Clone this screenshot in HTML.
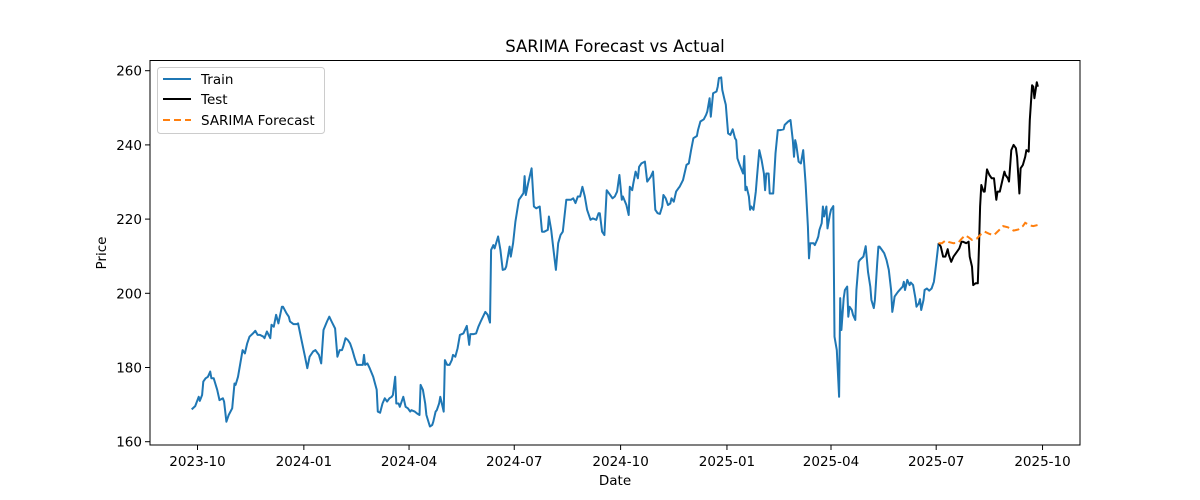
<!DOCTYPE html>
<html><head><meta charset="utf-8"><style>
html,body{margin:0;padding:0;background:#fff;}
svg{display:block;font-family:"DejaVu Sans","Liberation Sans",sans-serif;}
</style></head><body>
<svg id="chart" width="1200" height="500" viewBox="0 0 1200 500">
<rect width="1200" height="500" fill="#fff"/>
<text x="615" y="52" font-size="16.5" text-anchor="middle" fill="#000">SARIMA Forecast vs Actual</text>
<g id="axes"></g>
<g id="series"></g>
<rect x="150" y="60.5" width="930" height="384.5" fill="none" stroke="#000" stroke-width="1"/>
<text x="615" y="485" font-size="13.5" text-anchor="middle">Date</text>
<text x="106" y="253" font-size="13.5" text-anchor="middle" transform="rotate(-90 106 253)">Price</text>
<g>
<rect x="157.5" y="67.5" width="167" height="66" rx="3" fill="#fff" fill-opacity="0.8" stroke="#ccc"/>
<line x1="163" y1="79" x2="191" y2="79" stroke="#1f77b4" stroke-width="2"/>
<text x="201" y="84" font-size="13.5">Train</text>
<line x1="163" y1="99" x2="191" y2="99" stroke="#000" stroke-width="2"/>
<text x="201" y="104" font-size="13.5">Test</text>
<line x1="163" y1="120" x2="191" y2="120" stroke="#ff7f0e" stroke-width="2" stroke-dasharray="7,4"/>
<text x="201" y="125" font-size="13.5">SARIMA Forecast</text>
</g>
</svg>
<script>
// days since 2023-10-01
const trainDays=[-5,-2,1,2,4,5,7,9,11,12,14,17,19,22,23,25,27,30,32,33,35,37,39,41,43,45,48,50,52,54,57,58,60,63,64,66,68,70,73,74,77,79,80,83,86,87,90,93,95,97,100,102,105,107,109,112,114,116,119,121,123,125,126,128,130,132,134,136,138,141,143,144,145,147,149,152,155,156,158,160,162,164,166,168,169,171,172,174,175,178,180,182,184,185,188,190,192,193,195,197,198,201,203,204,206,207,209,210,213,214,216,218,220,221,223,225,227,230,233,235,236,239,241,243,245,247,249,251,253,254,256,257,260,262,264,266,267,270,271,273,275,278,280,282,283,284,286,288,289,291,293,296,298,300,303,304,306,308,310,312,314,316,319,323,325,327,329,331,333,335,337,340,342,345,347,348,350,352,354,357,359,361,363,365,367,368,371,373,374,376,377,379,381,382,384,387,389,392,394,396,398,400,402,403,405,407,409,410,412,414,416,417,420,422,423,425,427,429,432,433,435,438,440,441,443,444,446,449,450,451,453,454,456,457,459,461,463,465,466,467,469,472,473,474,475,477,478,479,481,483,484,486,488,490,491,492,494,495,498,500,502,504,507,508,511,513,515,516,517,518,520,522,524,526,528,529,530,533,534,536,537,538,540,541,542,544,545,547,548,550,551,553,555,556,557,559,560,562,563,564,566,567,569,570,572,573,576,578,580,582,583,585,586,588,589,590,592,594,596,598,600,601,602,603,605,606,608,610,611,612,614,616,617,619,621,622,624,625,626,628,629,631,633,635,637,638,639,641];
const trainPrices=[168.7,169.6,172.1,171.0,172.6,176.2,177.1,177.5,178.9,177.1,177.1,174.0,171.2,171.7,170.8,165.4,167.2,169.0,175.7,175.3,177.5,181.1,184.7,183.8,186.5,188.3,189.2,189.9,188.8,188.8,188.3,187.9,189.7,187.9,191.5,191.0,194.2,191.9,196.4,196.4,194.6,193.7,192.4,191.7,191.7,191.9,187.4,182.9,179.8,182.9,184.3,184.7,183.4,181.1,190.1,192.4,193.7,192.4,190.5,182.9,184.7,184.7,185.6,187.9,187.4,186.5,184.7,182.5,180.7,180.7,180.7,183.4,180.7,181.1,179.8,177.5,174.0,168.1,167.8,170.3,171.7,170.8,171.7,172.1,172.6,177.5,170.3,170.3,169.4,172.1,169.4,169.0,168.1,168.5,168.1,167.6,167.2,175.3,174.0,170.3,167.2,164.1,164.5,165.4,168.1,168.5,170.3,172.1,168.1,182.0,180.7,180.7,182.0,183.4,182.9,185.2,188.8,189.2,191.2,186.1,189.0,189.0,189.2,191.0,192.4,193.7,195.0,194.2,192.1,211.7,213.0,212.1,215.3,211.7,206.3,206.5,207.2,212.6,209.9,213.5,219.3,225.2,226.1,227.0,231.6,226.5,229.6,232.3,233.7,223.4,222.9,223.4,216.6,216.6,217.1,220.7,217.1,211.7,206.3,213.5,215.7,216.6,225.2,225.2,225.6,224.3,226.1,226.1,228.7,226.1,222.5,219.8,220.2,219.8,221.6,221.6,216.6,215.7,227.8,226.5,225.6,226.1,227.4,231.9,225.2,226.1,223.8,221.1,228.7,227.8,229.6,232.8,231.0,234.1,235.0,235.5,230.1,231.4,232.8,222.5,221.6,221.4,223.4,226.5,225.6,223.8,224.2,225.6,224.7,227.4,228.3,228.7,230.5,233.2,234.6,235.0,238.6,241.8,242.4,244.0,246.3,246.9,248.1,249.0,252.6,247.6,253.9,254.4,255.7,258.0,258.2,254.8,252.1,250.8,243.1,242.7,244.2,241.8,241.3,236.4,234.6,232.3,237.0,227.8,228.7,226.1,222.5,223.4,222.5,227.4,231.4,238.6,235.9,232.3,227.8,232.3,232.3,226.9,226.9,237.7,244.0,244.0,244.2,245.4,246.3,246.7,241.3,236.8,241.3,240.0,235.5,235.0,238.6,229.6,218.0,209.4,213.5,213.5,213.0,214.4,215.3,217.1,218.9,223.4,220.7,223.4,217.5,221.1,222.5,223.5,188.3,184.7,172.1,198.7,190.1,198.7,200.9,201.8,193.7,196.4,195.5,194.2,192.8,200.9,208.5,209.0,209.9,212.7,205.8,201.8,198.2,196.0,198.2,208.1,212.6,212.6,211.7,210.8,209.0,206.3,200.9,195.0,196.8,199.1,200.0,200.4,201.1,201.8,203.1,200.9,203.6,202.2,202.9,202.2,198.7,196.4,197.3,198.4,195.5,198.2,200.9,201.3,200.7,201.3,203.1,205.4,208.1,213.5];
const testDays=[641,643,645,647,649,650,652,654,657,659,661,662,665,667,668,670,671,673,675,676,677,678,680,681,683,685,687,689,691,692,694,696,698,699,701,702,704,706,708,709,711,712,714,716,717,719,720,722,723,724,726,727];
const testPrices=[213.5,212.6,209.9,209.9,211.9,210.3,208.5,209.9,211.2,212.1,213.9,213.9,213.5,213.9,209.9,207.2,202.2,202.7,202.7,212.6,223.4,229.2,227.4,227.4,233.4,231.9,231.0,231.0,225.2,227.4,227.4,230.1,232.8,231.9,231.0,230.1,238.6,240.0,239.1,236.8,226.9,233.7,234.6,236.8,238.6,238.2,246.7,256.1,255.7,252.6,256.9,255.7];
const fcDays=[641,644,647,650,654,658,661,664,667,670,674,678,681,685,689,693,697,701,706,710,714,716,720,723,727];
const fcPrices=[213.5,213.5,214.2,213.8,213.5,213.6,214.7,215.6,215.1,214.4,214.7,216.0,216.6,216.0,215.7,216.9,218.1,217.8,216.9,217.2,218.1,219.0,218.3,218.1,218.4];
const xTickDays=[0,92,183,274,366,458,548,639,731];
const xTickLabels=["2023-10","2024-01","2024-04","2024-07","2024-10","2025-01","2025-04","2025-07","2025-10"];
const yTickValues=[160,180,200,220,240,260];

const NS="http://www.w3.org/2000/svg";
function xScale(d){return 197.5+d*1.156;}
function yScale(v){return 441.7-(v-160)*3.71;}
const axes=document.getElementById('axes');
const series=document.getElementById('series');
function mk(tag,attrs,parent){const e=document.createElementNS(NS,tag);for(const k in attrs)e.setAttribute(k,attrs[k]);parent.appendChild(e);return e;}
xTickDays.forEach((d,i)=>{
  const x=xScale(d);
  const t=mk('line',{x1:x,y1:445,x2:x,y2:450,stroke:'#000','stroke-width':1},axes);
  
  
  const l=mk('text',{x:x,y:466,'font-size':13.5,'text-anchor':'middle'},axes);
  l.textContent=xTickLabels[i];
  
  
});
yTickValues.forEach(v=>{
  const y=yScale(v);
  const t=mk('line',{x1:145,y1:y,x2:150,y2:y,stroke:'#000','stroke-width':1},axes);
  
  
  const l=mk('text',{x:142,y:y+5,'font-size':13.5,'text-anchor':'end'},axes);
  l.textContent=String(v);
  
  
});
function pathOf(ds,ps){return ds.map((d,i)=>(i?'L':'M')+xScale(d).toFixed(1)+','+yScale(ps[i]).toFixed(1)).join('');}
const p1=mk('path',{d:pathOf(trainDays,trainPrices),fill:'none',stroke:'#1f77b4','stroke-width':2,'stroke-linejoin':'round'},series);


const p2=mk('path',{d:pathOf(testDays,testPrices),fill:'none',stroke:'#000','stroke-width':2,'stroke-linejoin':'round'},series);


const p3=mk('path',{d:pathOf(fcDays,fcPrices),fill:'none',stroke:'#ff7f0e','stroke-width':2,'stroke-dasharray':'7,4'},series);


</script>
</body></html>
